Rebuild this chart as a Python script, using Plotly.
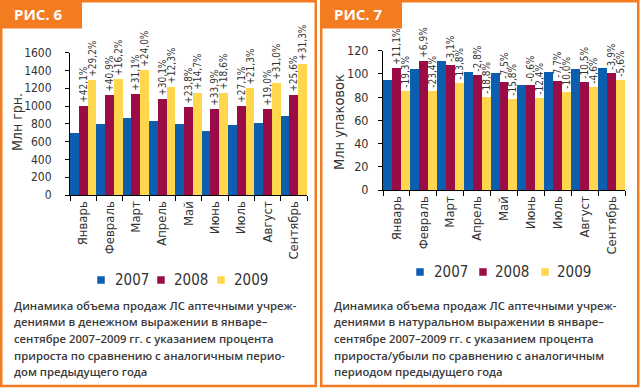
import plotly.graph_objects as go

W, H = 640, 388

months = ["Январь", "Февраль", "Март", "Апрель", "Май", "Июнь", "Июль", "Август", "Сентябрь"]
years = ["2007", "2008", "2009"]

# Fig. 6 — money terms, mln UAH
money_2007 = [705, 800, 870, 832, 805, 720, 795, 808, 895]
money_2008 = [1005, 1125, 1140, 1082, 995, 965, 1005, 965, 1125]
money_2009 = [1300, 1307, 1410, 1215, 1145, 1150, 1212, 1265, 1475]
money_lbl_2008 = ["+42,1%", "+40,9%", "+31,1%", "+30,1%", "+23,8%", "+33,9%", "+27,1%", "+19,0%", "+25,6%"]
money_lbl_2009 = ["+29,2%", "+16,2%", "+24,0%", "+12,3%", "+14,7%", "+18,6%", "+21,3%", "+31,0%", "+31,3%"]

# Fig. 7 — units, mln packs
units_2007 = [95.3, 104.5, 111.1, 101.9, 101.1, 91.0, 101.9, 104.2, 105.1]
units_2008 = [105.6, 111.4, 107.7, 99.1, 93.5, 90.4, 94.0, 93.3, 101.0]
units_2009 = [85.2, 85.3, 92.8, 80.5, 78.7, 79.2, 84.6, 89.0, 95.4]
units_lbl_2008 = ["+11,1%", "+6,9%", "-3,1%", "-2,8%", "-7,5%", "-0,6%", "-7,7%", "-10,5%", "-3,9%"]
units_lbl_2009 = ["-19,3%", "-23,4%", "-13,8%", "-18,8%", "-15,8%", "-12,4%", "-10,0%", "-4,6%", "-5,6%"]

captions_left = [
    "Динамика объема продаж ЛС аптечными учреж-",
    "дениями в денежном выражении в январе–",
    "сентябре 2007–2009 гг. с указанием процента",
    "прироста по сравнению с аналогичным перио-",
    "дом предыдущего года",
]
captions_right = [
    "Динамика объема продаж ЛС аптечными учреж-",
    "дениями в натуральном выражении в январе–",
    "сентябре 2007–2009 гг. с указанием процента",
    "прироста/убыли по сравнению с аналогичным",
    "периодом предыдущего года",
]

COLORS = ["#0b5fae", "#9b0c47", "#ffd64c"]
ORANGE = "#f47c20"
TXT = "#333333"
NARROW = "DejaVu Sans Condensed, Liberation Sans Narrow, DejaVu Sans, sans-serif"
CAP_FONT = "Open Sans, Noto Sans, sans-serif"


def nfont(size, color=TXT):
    return dict(family=NARROW, size=size, color=color)


def px(x):
    return x / W


def py(y):
    return 1 - y / H


fig = go.Figure()

panels = [
    dict(data=[money_2007, money_2008, money_2009], lbls=[None, money_lbl_2008, money_lbl_2009],
         xa="x", ya="y"),
    dict(data=[units_2007, units_2008, units_2009], lbls=[None, units_lbl_2008, units_lbl_2009],
         xa="x2", ya="y2"),
]

for p in panels:
    for i, (yr, vals, lbl) in enumerate(zip(years, p["data"], p["lbls"])):
        fig.add_trace(go.Bar(
            x=months, y=vals, name=yr,
            marker=dict(color=COLORS[i], line=dict(width=0)),
            text=lbl if lbl else None,
            textposition="outside" if lbl else "none",
            textangle=-90,
            textfont=nfont(10),
            constraintext="none",
            cliponaxis=False,
            showlegend=False,
            hoverinfo="skip",
            xaxis=p["xa"], yaxis=p["ya"],
        ))

axis_common = dict(showline=True, linecolor="#000", linewidth=1, ticks="outside",
                   tickcolor="#000", showgrid=False, zeroline=False, automargin=False)

fig.update_layout(
    width=W, height=H,
    margin=dict(l=0, r=0, t=0, b=0),
    paper_bgcolor="white", plot_bgcolor="white",
    barmode="group", bargap=0, bargroupgap=0,
    showlegend=False,
    xaxis=dict(domain=[px(70), px(307)], anchor="y", tickangle=-90, tickson="boundaries",
               ticklen=5, tickfont=nfont(13), **axis_common),
    yaxis=dict(domain=[py(195), py(52.7)], anchor="x", range=[0, 1600], dtick=200,
               ticklen=4, ticklabelstandoff=11, tickfont=nfont(12), **axis_common),
    xaxis2=dict(domain=[px(383), px(625)], anchor="y2", tickangle=-90, tickson="boundaries",
                ticklen=5, tickfont=nfont(13), **axis_common),
    yaxis2=dict(domain=[py(190), py(50.7)], anchor="x2", range=[0, 120], dtick=20,
                ticklen=4, ticklabelstandoff=7, tickfont=nfont(12.5), **axis_common),
)

shapes = []
annotations = []
for x0, x1, num in [(0, 317, "6"), (320, 639.5, "7")]:
    shapes.append(dict(type="rect", xref="paper", yref="paper",
                       x0=px(x0 + 1.25), x1=px(x1 - 1.25), y0=py(386), y1=py(1.25),
                       line=dict(color=ORANGE, width=2.5), fillcolor="rgba(0,0,0,0)"))
    shapes.append(dict(type="rect", xref="paper", yref="paper",
                       x0=px(x0), x1=px(x0 + 82), y0=py(28.5), y1=py(0),
                       line=dict(width=0), fillcolor=ORANGE))
    annotations.append(dict(xref="paper", yref="paper", x=px(x0 + 12), y=py(14.5),
                            xanchor="left", yanchor="middle", showarrow=False,
                            text="<b>РИС. " + num + "</b>",
                            font=dict(family="Open Sans, sans-serif", size=15, color="white")))

# legends (one per panel)
legend_pos = [
    (280, [101, 161, 221], [113, 172, 232]),
    (272, [420, 483, 545], [432, 493, 555]),
]
for ly, sq_x, tx_x in legend_pos:
    for c, sx, tx, yr in zip(COLORS, sq_x, tx_x, years):
        shapes.append(dict(type="rect", xref="paper", yref="paper",
                           x0=px(sx - 3.75), x1=px(sx + 3.75), y0=py(ly + 3.75), y1=py(ly - 3.75),
                           line=dict(width=0), fillcolor=c))
        annotations.append(dict(xref="paper", yref="paper", x=px(tx), y=py(ly),
                                xanchor="left", yanchor="middle", showarrow=False, text=yr,
                                font=nfont(15)))

annotations.append(dict(xref="paper", yref="paper", x=px(17), y=py(122), textangle=-90,
                        xanchor="center", yanchor="middle", showarrow=False, text="Млн грн.",
                        font=nfont(14)))
annotations.append(dict(xref="paper", yref="paper", x=px(339), y=py(122), textangle=-90,
                        xanchor="center", yanchor="middle", showarrow=False, text="Млн упаковок",
                        font=nfont(14.5)))

line_y = [305, 321.7, 338.3, 355, 371.7]
for xs, lines in [(12, captions_left), (332, captions_right)]:
    for yy, t in zip(line_y, lines):
        annotations.append(dict(xref="paper", yref="paper", x=px(xs), y=py(yy),
                                xanchor="left", yanchor="middle", showarrow=False, text=t,
                                font=dict(family=CAP_FONT, size=11.3, color="#3a3a3a", weight=600)))

fig.update_layout(shapes=shapes, annotations=annotations)

fig.write_html("out.html", config={"displayModeBar": False},
               post_script="document.body.style.margin='0px';")
